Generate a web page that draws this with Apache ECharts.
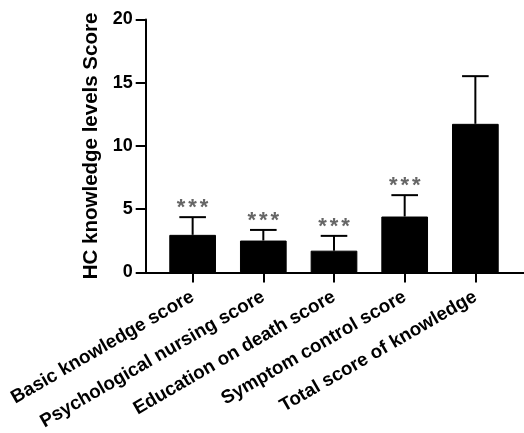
<!DOCTYPE html>
<html><head><meta charset="utf-8">
<script src="https://cdn.jsdelivr.net/npm/echarts@6/dist/echarts.min.js"></script>
<style>html,body{margin:0;padding:0;background:#fff}#c{width:524px;height:433px}</style>
</head><body><div id="c"></div>
<script>
var categories = ['Basic knowledge score','Psychological nursing score','Education on death score','Symptom control score','Total score of knowledge'];
var means = [2.97, 2.52, 1.72, 4.42, 11.75];
var sds = [1.40, 0.84, 1.17, 1.69, 3.77];
var signif = ['***','***','***','***',''];
var yTicks = [0, 5, 10, 15, 20];

var chart = echarts.init(document.getElementById('c'));
var FONT = '"Liberation Sans", Arial, sans-serif';
var errData = means.map(function(m,i){ return [i, m, m + sds[i], signif[i]]; });
chart.setOption({
  animation: false,
  grid: [
    {left: 157.3, right: 13.3, top: 19.5, bottom: 160.5},
    {left: 145.7, right: 0, top: 19.5, bottom: 160.5}
  ],
  xAxis: [
    {type: 'category', data: categories, gridIndex: 0,
     axisLine: {show: false},
     axisTick: {show: true, alignWithLabel: true, length: 10, lineStyle: {color: '#000', width: 2}},
     axisLabel: {rotate: 30, interval: 0, color: '#000', fontWeight: 'bold', fontSize: 18.8, fontFamily: FONT, margin: 23}
    },
    {type: 'value', gridIndex: 1, min: 0, max: 1,
     axisLine: {show: true, lineStyle: {color: '#000', width: 2}},
     axisTick: {show: false}, axisLabel: {show: false}, splitLine: {show: false}}
  ],
  yAxis: [
    {type: 'value', gridIndex: 0, min: yTicks[0], max: yTicks[yTicks.length-1], interval: 5, offset: 11.6,
     name: 'HC knowledge levels Score', nameLocation: 'middle', nameGap: 42,
     nameTextStyle: {color: '#000', fontWeight: 'bold', fontSize: 20.5, fontFamily: FONT},
     axisLine: {show: true, lineStyle: {color: '#000', width: 2}},
     axisTick: {show: true, length: 10, lineStyle: {color: '#000', width: 2}},
     axisLabel: {color: '#000', fontWeight: 'bold', fontSize: 18, fontFamily: FONT, margin: 13},
     splitLine: {show: false}},
    {type: 'value', gridIndex: 1, min: 0, max: 1, show: false}
  ],
  series: [
    {type: 'bar', data: means, xAxisIndex: 0, yAxisIndex: 0, barWidth: 46.7,
     itemStyle: {color: '#000', borderColor: '#000', borderWidth: 1}},
    {type: 'custom', xAxisIndex: 0, yAxisIndex: 0, data: errData, z: 1,
     renderItem: function(params, api){
       var base = api.coord([api.value(0), api.value(1)]);
       var top = api.coord([api.value(0), api.value(2)]);
       var half = 13.3;
       var children = [
         {type: 'line', shape: {x1: base[0], y1: base[1], x2: top[0], y2: top[1]}, style: {stroke: '#000', lineWidth: 2}},
         {type: 'line', shape: {x1: top[0]-half, y1: top[1], x2: top[0]+half, y2: top[1]}, style: {stroke: '#000', lineWidth: 2}}
       ];
       var s = String(api.value(3) || '');
       for (var k = 0; k < s.length; k++) {
         children.push({type: 'text', style: {text: s.charAt(k), x: top[0] + (k - (s.length-1)/2) * 11.5, y: top[1] - 9,
           align: 'center', verticalAlign: 'middle', fill: '#666', font: 'bold 22px ' + FONT}});
       }
       return {type: 'group', children: children};
     }}
  ]
});
</script></body></html>
